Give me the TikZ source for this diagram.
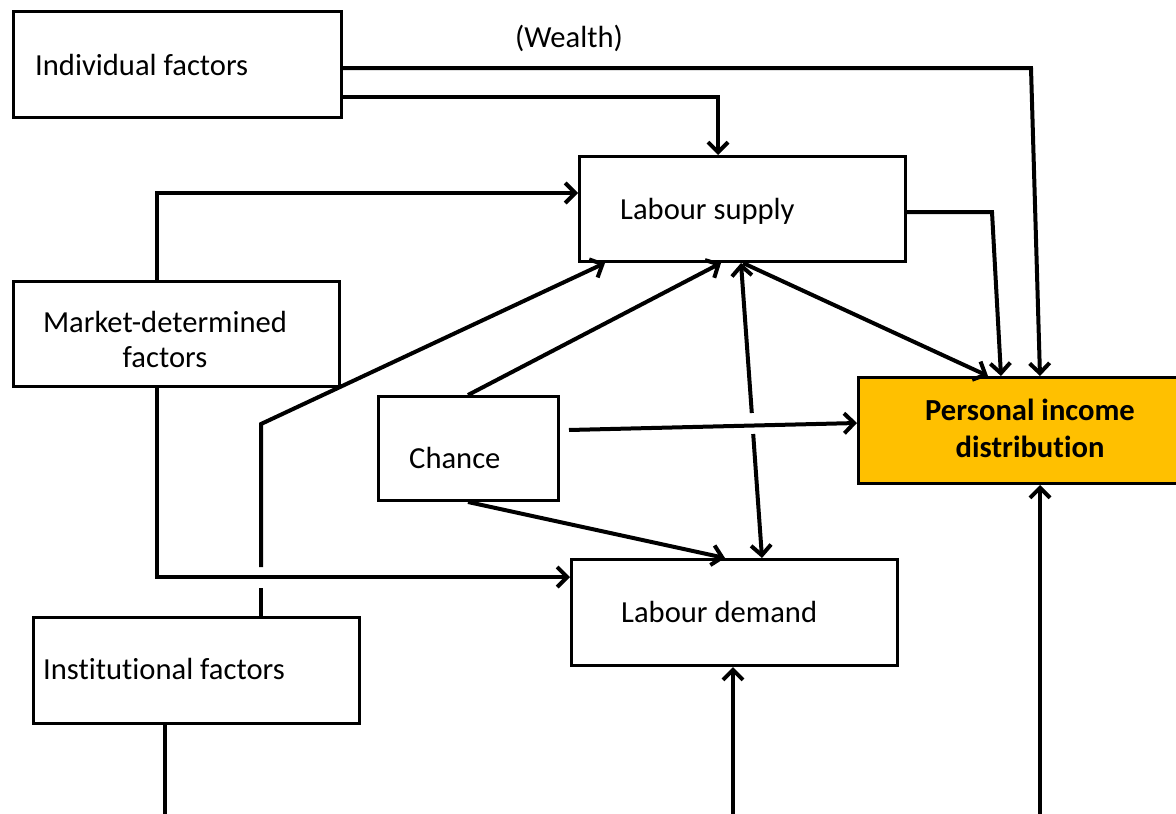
\documentclass[tikz,border=0pt]{standalone}
\usepackage{fontspec}
\setmainfont{Carlito}[Ligatures=NoCommon]
\usetikzlibrary{arrows.meta}
\definecolor{pidorange}{HTML}{FFC000}
\tikzset{
  box/.style={draw, line width=3pt, inner sep=0pt, anchor=north west, fill=white},
  lbl/.style={inner sep=0pt, font=\fontsize{30.6pt}{36pt}\selectfont},
  conn/.style={line width=4pt},
  arr/.style={conn, -{Straight Barb[length=10pt,width=20pt]}},
  rarr/.style={conn, {Straight Barb[length=10pt,width=20pt]}-},
}
\begin{document}
\begin{tikzpicture}[x=1pt,y=-1pt]
\useasboundingbox (0,0) rectangle (1176,814);
% boxes
\node[box, minimum width=328pt, minimum height=106pt] (ind) at (12,10) {};
\node[box, minimum width=326pt, minimum height=105pt] (sup) at (578,155) {};
\node[box, minimum width=326pt, minimum height=105pt] (mkt) at (12,280) {};
\node[box, minimum width=180pt, minimum height=104pt] (cha) at (377,395) {};
\node[box, minimum width=330pt, minimum height=106pt, fill=pidorange] (pid) at (857,376) {};
\node[box, minimum width=326pt, minimum height=106pt] (dem) at (570,558) {};
\node[box, minimum width=326pt, minimum height=106pt] (ins) at (32,616) {};
% labels
\node[lbl, anchor=base west] (indt) at (35,75) {Individual factors};
\node[lbl, anchor=base] (wea) at (569,47) {(Wealth)};
\node[lbl, anchor=base west] (supt) at (620,219) {Labour supply};
\node[lbl, anchor=base] (mktt1) at (165,332) {Market-determined};
\node[lbl, anchor=base] (mktt2) at (165,367) {factors};
\node[lbl, anchor=base west] (chat) at (409,468) {Chance};
\node[lbl, anchor=base, font=\fontsize{30.6pt}{36pt}\selectfont\bfseries] (pidt1) at (1030,420) {Personal income};
\node[lbl, anchor=base, font=\fontsize{30.6pt}{36pt}\selectfont\bfseries] (pidt2) at (1030,457) {distribution};
\node[lbl, anchor=base west] (demt) at (621,622) {Labour demand};
\node[lbl, anchor=base west] (inst) at (43,679) {Institutional factors};
% coordinates
\coordinate (w1) at (1031,68);
\coordinate (s1) at (992,212);
\coordinate (g1) at (261,588);
\coordinate (g2) at (261,567);
\coordinate (i1) at (261,424);
\coordinate (b1) at (165,814);
\coordinate (b2) at (733,814);
\coordinate (b3) at (1040,814);
\coordinate (c1) at (569,430);
\coordinate (d1) at (751.8,413);
\coordinate (d2) at (753.2,434);
% connectors
\draw[arr] ([yshift=-58pt]ind.north east) -- (w1) -- ([xshift=183pt]pid.north west);
\draw[arr] ([yshift=-87pt]ind.north east) -| ([xshift=140pt]sup.north west);
\draw[arr] ([yshift=-57pt]sup.north east) -- (s1) -- ([xshift=144pt]pid.north west);
\draw[arr] ([xshift=145pt]mkt.north west) |- ([yshift=-38pt]sup.north west);
\draw[arr] ([xshift=145pt]mkt.south west) |- ([yshift=-19pt]dem.north west);
\draw[conn] ([xshift=229pt]ins.north west) -- (g1);
\draw[arr] (g2) -- (i1) -- ([xshift=27pt]sup.south west);
\draw[conn] ([xshift=133pt]ins.south west) -- (b1);
\draw[arr] (b2) -- ([xshift=163pt]dem.south west);
\draw[arr] (b3) -- ([xshift=183pt]pid.south west);
\draw[arr] ([xshift=91pt]cha.north west) -- ([xshift=143pt]sup.south west);
\draw[arr] (c1) -- ([yshift=-47pt]pid.north west);
\draw[arr] ([xshift=91pt]cha.south west) -- ([xshift=155pt]dem.north west);
\draw[rarr] ([xshift=163pt]sup.south west) -- (d1);
\draw[arr] (d2) -- ([xshift=192pt]dem.north west);
\draw[arr] ([xshift=165pt]sup.south west) -- ([xshift=131pt]pid.north west);
\end{tikzpicture}
\end{document}
